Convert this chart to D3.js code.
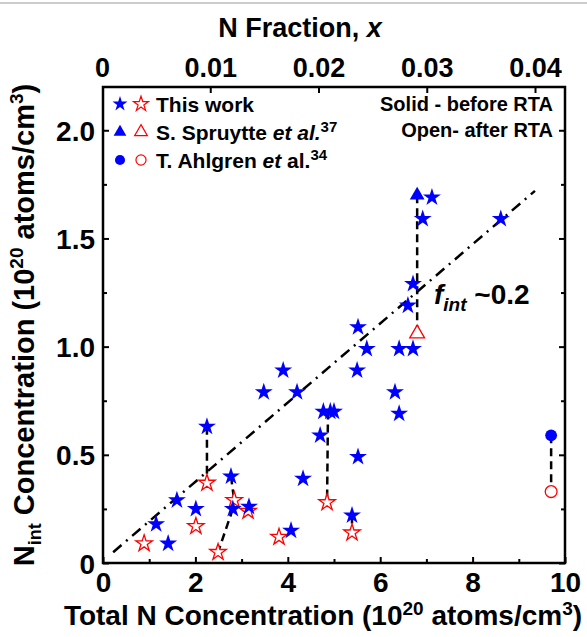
<!DOCTYPE html>
<html lang="en">
    <head>
        <meta charset="utf-8">
        <title>D3 : N interstitial concentration</title>
        <script type="text/javascript" src="https://cdn.jsdelivr.net/npm/d3@7"></script>
        <style type="text/css">
           body { margin: 0; background: #fff; }
           text {
               font-family: "Liberation Sans", Arial, sans-serif;
               font-weight: bold;
               fill: black;
           }
        </style>
    </head>
    <body>
        <script type="text/javascript">

              var w = 587;
              var h = 637;

              // this work, before RTA (solid blue stars)
              var beforeX = [1.15, 1.41, 1.60, 2.01, 2.25, 2.77, 2.81, 3.16, 3.48, 3.90, 4.20, 4.07, 4.33, 4.70,
                             4.77, 4.92, 5.00, 5.52, 5.39, 5.50, 6.32, 6.41, 5.52, 5.71, 6.41, 6.71, 6.60, 6.71,
                             6.92, 7.12, 8.61];
              var beforeY = [0.18, 0.09, 0.29, 0.25, 0.63, 0.40, 0.25, 0.26, 0.79, 0.89, 0.79, 0.15, 0.39, 0.59,
                             0.70, 0.70, 0.70, 0.49, 0.22, 0.89, 0.79, 0.69, 1.09, 0.99, 0.99, 0.99, 1.19, 1.29,
                             1.59, 1.69, 1.59];

              // this work, after RTA (open red stars)
              var afterX = [0.89, 2.01, 2.25, 2.49, 2.84, 3.14, 3.81, 4.85, 5.39];
              var afterY = [0.09, 0.17, 0.37, 0.05, 0.29, 0.24, 0.12, 0.28, 0.14];

              // S. Spruytte et al.
              var spruytteX = [6.80];
              var spruytteBefore = [1.70];
              var spruytteAfter = [1.06];

              // T. Ahlgren et al.
              var ahlgrenX = [9.70];
              var ahlgrenBefore = [0.59];
              var ahlgrenAfter = [0.33];

              // dashed links before -> after
              var linkX1 = [2.25, 2.77, 2.81, 4.87, 5.39, 6.80, 9.70];
              var linkY1 = [0.63, 0.40, 0.25, 0.70, 0.22, 1.70, 0.59];
              var linkX2 = [2.25, 2.84, 2.49, 4.85, 5.39, 6.80, 9.70];
              var linkY2 = [0.37, 0.29, 0.05, 0.28, 0.14, 1.06, 0.33];

              // f_int fit line
              var fitX = [0.22, 9.35];
              var fitY = [0.05, 1.72];

              var xTicks = [0, 2, 4, 6, 8, 10];
              var yTicks = [0, 0.5, 1.0, 1.5, 2.0];
              var yTickLabels = ["0", "0.5", "1.0", "1.5", "2.0"];
              var fracTicks = [0, 0.01, 0.02, 0.03, 0.04];
              var fracTickLabels = ["0", "0.01", "0.02", "0.03", "0.04"];

              var pLeft = 103, pRight = 565, pTop = 87, pBottom = 563;

              var x = d3.scaleLinear().domain([0, 10]).range([pLeft, pRight]);
              var y = d3.scaleLinear().domain([0, 2.2]).range([pBottom, pTop]);
              var xf = d3.scaleLinear().domain([0, 0.04]).range([102, 535]);

              var svg = d3.select("body")
                          .append("svg")
                          .attr("width", w)
                          .attr("height", h);

              svg.append("line")
                 .attr("x1", 0).attr("x2", w).attr("y1", 3).attr("y2", 3)
                 .attr("stroke", "#bbb").attr("stroke-width", 1.5);

              // frame
              svg.append("rect")
                 .attr("x", pLeft).attr("y", pTop)
                 .attr("width", pRight - pLeft).attr("height", pBottom - pTop)
                 .attr("fill", "none").attr("stroke", "black").attr("stroke-width", 2.5);

              var axes = svg.append("g").attr("class", "axes");

              function plain(g) {
                  g.select(".domain").remove();
                  g.selectAll("line").attr("stroke-width", 2);
              }

              // bottom axis
              axes.append("g")
                  .attr("transform", "translate(0," + pBottom + ")")
                  .call(d3.axisBottom(x).tickValues(xTicks).tickSize(-6).tickFormat(d3.format("d")))
                  .call(function(g) {
                      plain(g);
                      g.selectAll("text").attr("dy", null).attr("y", 29).style("font-size", "28px");
                  });
              axes.append("g")
                  .attr("transform", "translate(0," + pBottom + ")")
                  .call(d3.axisBottom(x).tickValues(d3.range(1, 10, 2)).tickSize(-4).tickFormat(""))
                  .call(plain);

              // left and right axes
              axes.append("g")
                  .attr("transform", "translate(" + pLeft + ",0)")
                  .call(d3.axisLeft(y).tickValues(yTicks).tickSize(-6).tickFormat(function(d, i) { return yTickLabels[i]; }))
                  .call(function(g) {
                      plain(g);
                      g.selectAll("text").attr("x", -8).attr("dy", "0.36em").style("font-size", "28px");
                  });
              axes.append("g")
                  .attr("transform", "translate(" + pLeft + ",0)")
                  .call(d3.axisLeft(y).tickValues([0.25, 0.75, 1.25, 1.75]).tickSize(-4).tickFormat(""))
                  .call(plain);
              axes.append("g")
                  .attr("transform", "translate(" + pRight + ",0)")
                  .call(d3.axisRight(y).tickValues(yTicks).tickSize(-6).tickFormat(""))
                  .call(plain);
              axes.append("g")
                  .attr("transform", "translate(" + pRight + ",0)")
                  .call(d3.axisRight(y).tickValues([0.25, 0.75, 1.25, 1.75]).tickSize(-4).tickFormat(""))
                  .call(plain);

              // top axis: N fraction
              axes.append("g")
                  .attr("transform", "translate(0," + pTop + ")")
                  .call(d3.axisTop(xf).tickValues(fracTicks.slice(1)).tickSize(-6).tickFormat(""))
                  .call(plain);
              axes.append("g")
                  .attr("transform", "translate(0," + pTop + ")")
                  .call(d3.axisTop(xf).tickValues(fracTicks).tickSize(0).tickFormat(function(d, i) { return fracTickLabels[i]; }))
                  .call(function(g) {
                      g.select(".domain").remove();
                      g.selectAll("text").attr("y", -10).attr("dy", null).style("font-size", "27px");
                  });

              // axis titles
              svg.append("text")
                 .attr("x", 300).attr("y", 37)
                 .attr("text-anchor", "middle")
                 .style("font-size", "27px")
                 .html("N Fraction, <tspan font-style='italic'>x</tspan>");

              svg.append("text")
                 .attr("x", 323).attr("y", 625)
                 .attr("text-anchor", "middle")
                 .style("font-size", "28px")
                 .html("Total N Concentration (10<tspan dy='-10' font-size='19px'>20</tspan><tspan dy='10'> atoms/cm</tspan><tspan dy='-10' font-size='19px'>3</tspan><tspan dy='10'>)</tspan>");

              svg.append("text")
                 .attr("transform", "translate(34,325) rotate(-90)")
                 .attr("text-anchor", "middle")
                 .style("font-size", "29px")
                 .html("N<tspan dy='7' font-size='18px'>int</tspan><tspan dy='-7'> Concentration (10</tspan><tspan dy='-11' font-size='19px'>20</tspan><tspan dy='11'> atoms/cm</tspan><tspan dy='-11' font-size='19px'>3</tspan><tspan dy='11'>)</tspan>");

              // fit line
              svg.append("line")
                 .attr("x1", x(fitX[0])).attr("y1", y(fitY[0]))
                 .attr("x2", x(fitX[1])).attr("y2", y(fitY[1]))
                 .attr("stroke", "black").attr("stroke-width", 2.5)
                 .attr("stroke-dasharray", "11,6,2,6");

              // before -> after links
              svg.selectAll("line.link")
                 .data(linkX1)
                 .enter()
                 .append("line")
                 .attr("class", "link")
                 .attr("x1", function(d) { return x(d); })
                 .attr("y1", function(d, i) { return y(linkY1[i]); })
                 .attr("x2", function(d, i) { return x(linkX2[i]); })
                 .attr("y2", function(d, i) { return y(linkY2[i]); })
                 .attr("stroke", "black").attr("stroke-width", 2.5)
                 .attr("stroke-dasharray", "8,5");

              var star = d3.symbol().type(d3.symbolStar).size(100);
              var openStar = d3.symbol().type(d3.symbolStar).size(85);
              var tri = d3.symbol().type(d3.symbolTriangle).size(95);
              var circ = d3.symbol().type(d3.symbolCircle).size(110);

              svg.selectAll("path.after")
                 .data(afterX)
                 .enter()
                 .append("path")
                 .attr("class", "after")
                 .attr("d", openStar)
                 .attr("transform", function(d, i) { return "translate(" + x(d) + "," + y(afterY[i]) + ")"; })
                 .attr("fill", "white").attr("stroke", "red").attr("stroke-width", 1.3);

              svg.selectAll("path.before")
                 .data(beforeX)
                 .enter()
                 .append("path")
                 .attr("class", "before")
                 .attr("d", star)
                 .attr("transform", function(d, i) { return "translate(" + x(d) + "," + y(beforeY[i]) + ")"; })
                 .attr("fill", "blue");

              spruytteX.forEach(function(d, i) {
                  svg.append("path").attr("d", tri)
                     .attr("transform", "translate(" + x(d) + "," + y(spruytteBefore[i]) + ")")
                     .attr("fill", "blue");
                  svg.append("path").attr("d", tri)
                     .attr("transform", "translate(" + x(d) + "," + y(spruytteAfter[i]) + ")")
                     .attr("fill", "white").attr("stroke", "red").attr("stroke-width", 1.3);
              });

              ahlgrenX.forEach(function(d, i) {
                  svg.append("path").attr("d", circ)
                     .attr("transform", "translate(" + x(d) + "," + y(ahlgrenBefore[i]) + ")")
                     .attr("fill", "blue");
                  svg.append("path").attr("d", circ)
                     .attr("transform", "translate(" + x(d) + "," + y(ahlgrenAfter[i]) + ")")
                     .attr("fill", "white").attr("stroke", "red").attr("stroke-width", 1.3);
              });

              // f_int label
              svg.append("text")
                 .attr("x", 434).attr("y", 304)
                 .style("font-size", "28px")
                 .html("<tspan font-style='italic'>f</tspan><tspan font-style='italic' dy='7' font-size='19px'>int</tspan><tspan dy='-7'> ~0.2</tspan>");

              // legend
              var legendY = [104, 132, 160];
              var legendText = [
                  "This work",
                  "S. Spruytte <tspan font-style='italic'>et al.</tspan><tspan dy='-8' font-size='15px'>37</tspan>",
                  "T. Ahlgren <tspan font-style='italic'>et</tspan> al.<tspan dy='-8' font-size='15px'>34</tspan>"
              ];
              var legendSym = [
                  d3.symbol().type(d3.symbolStar).size(70),
                  d3.symbol().type(d3.symbolTriangle).size(70),
                  d3.symbol().type(d3.symbolCircle).size(80)
              ];
              var legend = svg.selectAll("g.legend")
                              .data(legendY)
                              .enter()
                              .append("g")
                              .attr("class", "legend")
                              .attr("transform", function(d) { return "translate(0," + d + ")"; });
              legend.append("path")
                    .attr("d", function(d, i) { return legendSym[i](); })
                    .attr("transform", "translate(120,0)")
                    .attr("fill", "blue");
              legend.append("path")
                    .attr("d", function(d, i) { return legendSym[i](); })
                    .attr("transform", "translate(141,0)")
                    .attr("fill", "white").attr("stroke", "red").attr("stroke-width", 1.2);
              legend.append("text")
                    .attr("x", 156).attr("y", 8)
                    .style("font-size", "21px")
                    .html(function(d, i) { return legendText[i]; });

              svg.append("text")
                 .attr("x", 553).attr("y", 111)
                 .attr("text-anchor", "end")
                 .style("font-size", "20px")
                 .text("Solid  - before RTA");
              svg.append("text")
                 .attr("x", 553).attr("y", 137)
                 .attr("text-anchor", "end")
                 .style("font-size", "20px")
                 .text("Open- after RTA");

        </script>
    </body>
</html>
